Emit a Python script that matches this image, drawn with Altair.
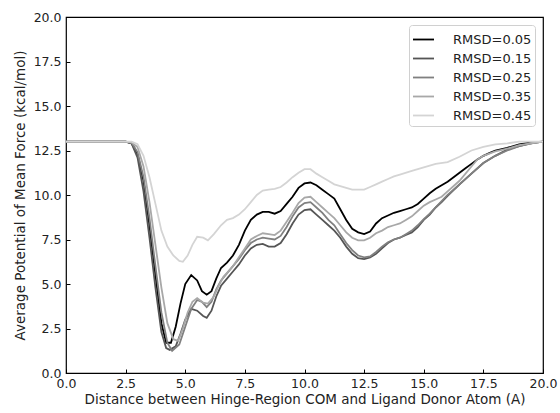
import altair as alt
import pandas as pd

# Series names and their grey levels
rmsd_labels = ["RMSD=0.05", "RMSD=0.15", "RMSD=0.25", "RMSD=0.35", "RMSD=0.45"]
line_colors = ["#000000", "#555555", "#808080", "#a8a8a8", "#d4d4d4"]

# Axis tick positions
x_ticks = [0.0, 2.5, 5.0, 7.5, 10.0, 12.5, 15.0, 17.5, 20.0]
y_ticks = [0.0, 2.5, 5.0, 7.5, 10.0, 12.5, 15.0, 17.5, 20.0]

# RMSD = 0.05
dist_005 = [0.0, 2.5, 2.75, 3.0, 3.25, 3.5, 3.75, 4.0, 4.2, 4.4, 4.6, 4.8, 5.0, 5.25,
            5.5, 5.7, 5.9, 6.1, 6.3, 6.5, 6.75, 7.0, 7.25, 7.5, 7.75, 8.0, 8.25, 8.5,
            8.75, 9.0, 9.25, 9.5, 9.75, 10.0, 10.25, 10.5, 10.75, 11.0, 11.25, 11.5,
            11.75, 12.0, 12.25, 12.5, 12.75, 13.0, 13.25, 13.5, 13.75, 14.0, 14.25,
            14.5, 14.75, 15.0, 15.25, 15.5, 15.75, 16.0, 16.25, 16.5, 16.75, 17.0,
            17.25, 17.5, 17.75, 18.0, 18.5, 19.0, 19.5, 20.0]
pmf_005 = [13.0, 13.0, 12.9, 12.3, 10.8, 8.3, 5.5, 2.8, 1.7, 1.7, 2.6, 3.9, 5.0, 5.5,
           5.2, 4.6, 4.4, 4.6, 5.3, 5.9, 6.2, 6.6, 7.2, 8.0, 8.6, 8.9, 9.05, 9.05,
           8.95, 9.1, 9.5, 9.9, 10.4, 10.65, 10.7, 10.55, 10.3, 10.05, 9.8, 9.2,
           8.6, 8.1, 7.9, 7.8, 7.95, 8.4, 8.7, 8.85, 9.0, 9.1, 9.2,
           9.3, 9.5, 9.8, 10.1, 10.35, 10.55, 10.75, 11.0, 11.25, 11.5, 11.75,
           12.0, 12.2, 12.35, 12.5, 12.65, 12.85, 12.95, 13.0]

# RMSD = 0.15
dist_015 = [0.0, 2.5, 2.75, 3.0, 3.25, 3.5, 3.75, 4.0, 4.2, 4.35, 4.6, 4.8, 5.0, 5.25,
            5.5, 5.75, 5.9, 6.1, 6.3, 6.5, 6.75, 7.0, 7.25, 7.5, 7.75, 8.0, 8.25, 8.5,
            8.75, 9.0, 9.25, 9.5, 9.75, 10.0, 10.25, 10.5, 10.75, 11.0, 11.25, 11.5,
            11.75, 12.0, 12.25, 12.5, 12.75, 13.0, 13.25, 13.5, 13.75, 14.0, 14.25,
            14.5, 14.75, 15.0, 15.25, 15.5, 15.75, 16.0, 16.5, 17.0, 17.5, 18.0,
            18.5, 19.0, 19.5, 20.0]
pmf_015 = [13.0, 13.0, 12.9, 12.1, 10.2, 7.6, 4.8, 2.3, 1.4, 1.3, 1.5, 2.2, 3.0, 3.6,
           3.5, 3.2, 3.1, 3.5, 4.3, 4.9, 5.3, 5.7, 6.1, 6.6, 7.0, 7.2, 7.25, 7.1,
           7.1, 7.3, 7.8, 8.4, 8.9, 9.15, 9.2, 8.9, 8.6, 8.3, 8.0, 7.6,
           7.1, 6.7, 6.45, 6.4, 6.5, 6.7, 7.0, 7.3, 7.5, 7.6, 7.75,
           7.9, 8.2, 8.6, 8.9, 9.3, 9.6, 9.95, 10.6, 11.2, 11.8, 12.2,
           12.55, 12.75, 12.9, 13.0]

# RMSD = 0.25
dist_025 = [0.0, 2.5, 2.75, 3.0, 3.25, 3.5, 3.75, 4.0, 4.25, 4.45, 4.75, 5.0, 5.25,
            5.5, 5.7, 5.9, 6.1, 6.3, 6.5, 6.75, 7.0, 7.25, 7.5, 7.75, 8.0, 8.25, 8.5,
            8.75, 9.0, 9.25, 9.5, 9.75, 10.0, 10.25, 10.5, 10.75, 11.0, 11.25, 11.5,
            11.75, 12.0, 12.25, 12.5, 12.75, 13.0, 13.25, 13.5, 13.75, 14.0, 14.25,
            14.5, 14.75, 15.0, 15.25, 15.5, 15.75, 16.0, 16.5, 17.0, 17.5, 18.0,
            18.5, 19.0, 19.5, 20.0]
pmf_025 = [13.0, 13.0, 12.95, 12.4, 11.0, 8.7, 6.0, 3.4, 1.7, 1.25, 1.6, 2.6, 3.6,
           4.1, 4.0, 3.7, 4.0, 4.7, 5.2, 5.6, 6.0, 6.4, 6.9, 7.3, 7.5, 7.6, 7.55,
           7.5, 7.7, 8.2, 8.8, 9.3, 9.55, 9.6, 9.3, 9.0, 8.6, 8.3, 7.8,
           7.3, 6.9, 6.6, 6.5, 6.55, 6.8, 7.1, 7.35, 7.5, 7.6, 7.8,
           8.0, 8.3, 8.65, 8.95, 9.3, 9.65, 10.0, 10.6, 11.2, 11.8, 12.2,
           12.5, 12.75, 12.9, 13.0]

# RMSD = 0.35
dist_035 = [0.0, 2.5, 2.75, 3.0, 3.25, 3.5, 3.75, 4.0, 4.25, 4.5, 4.7, 4.9, 5.1, 5.3,
            5.5, 5.75, 5.95, 6.2, 6.4, 6.6, 6.8, 7.0, 7.25, 7.5, 7.75, 8.0, 8.25, 8.5,
            8.75, 9.0, 9.25, 9.5, 9.75, 10.0, 10.25, 10.5, 10.75, 11.0, 11.25, 11.5,
            11.75, 12.0, 12.25, 12.5, 12.75, 13.0, 13.25, 13.5, 13.75, 14.0, 14.25,
            14.5, 14.75, 15.0, 15.25, 15.5, 15.75, 16.0, 16.5, 17.0, 17.25, 17.5,
            18.0, 18.5, 19.0, 19.5, 20.0]
pmf_035 = [13.0, 13.0, 12.95, 12.7, 11.6, 9.6, 7.2, 4.8, 2.8, 1.9, 1.8, 2.5, 3.4, 4.0,
           4.2, 3.95, 3.9, 4.3, 4.9, 5.4, 5.7, 6.0, 6.5, 7.0, 7.5, 7.7, 7.85, 7.8,
           7.75, 8.0, 8.5, 9.0, 9.55, 9.85, 9.9, 9.6, 9.3, 9.0, 8.7, 8.3,
           7.9, 7.6, 7.45, 7.45, 7.6, 7.85, 8.0, 8.2, 8.3, 8.4, 8.6,
           8.8, 9.1, 9.4, 9.6, 9.75, 9.9, 10.2, 10.8, 11.6, 12.0, 12.2,
           12.45, 12.6, 12.8, 12.9, 13.0]

# RMSD = 0.45
dist_045 = [0.0, 2.75, 3.0, 3.25, 3.5, 3.75, 4.0, 4.25, 4.5, 4.75, 4.9, 5.1, 5.3, 5.5,
            5.75, 5.95, 6.2, 6.5, 6.75, 7.0, 7.25, 7.5, 7.75, 8.0, 8.25, 8.5, 8.75,
            9.0, 9.25, 9.5, 9.75, 10.0, 10.25, 10.5, 10.75, 11.0, 11.25, 11.5, 11.75,
            12.0, 12.5, 12.75, 13.0, 13.25, 13.5, 13.75, 14.0, 14.5, 15.0, 15.5,
            16.0, 16.5, 17.0, 17.5, 18.0, 18.5, 19.0, 20.0]
pmf_045 = [13.0, 13.0, 12.85, 12.2, 11.0, 9.5, 8.0, 7.1, 6.6, 6.3, 6.25, 6.6, 7.2, 7.65,
           7.6, 7.45, 7.8, 8.3, 8.6, 8.7, 8.9, 9.2, 9.6, 10.0, 10.25, 10.3, 10.35,
           10.45, 10.7, 11.0, 11.25, 11.45, 11.45, 11.2, 11.0, 10.8, 10.6, 10.5, 10.4,
           10.3, 10.3, 10.45, 10.6, 10.75, 10.9, 11.05, 11.15, 11.35, 11.55, 11.75,
           11.85, 12.15, 12.5, 12.7, 12.85, 12.9, 13.0, 13.0]

series = [(rmsd_labels[0], dist_005, pmf_005),
          (rmsd_labels[1], dist_015, pmf_015),
          (rmsd_labels[2], dist_025, pmf_025),
          (rmsd_labels[3], dist_035, pmf_035),
          (rmsd_labels[4], dist_045, pmf_045)]

frames = []
for order, (name, xs, ys) in enumerate(series):
    frames.append(pd.DataFrame({"rmsd": name, "order": order,
                                "distance": xs, "pmf": ys}))
data = pd.concat(frames, ignore_index=True)

W, H = 477, 356
font = "DejaVu Sans"

x_scale = alt.Scale(domain=[0, 20], nice=False, zero=False)
y_scale = alt.Scale(domain=[0, 20], nice=False, zero=False)

base = alt.Chart(data)

# Visible curves with tick labels, titles and legend
curves = base.mark_line(strokeWidth=1.8, clip=True).encode(
    x=alt.X("distance:Q", scale=x_scale,
            title="Distance between Hinge-Region COM and Ligand Donor Atom (A)",
            axis=alt.Axis(values=x_ticks, format=".1f", ticks=False, domain=False,
                          grid=False, labelPadding=4, labelFlush=False,
                          labelOverlap=False, titlePadding=3)),
    y=alt.Y("pmf:Q", scale=y_scale,
            title="Average Potential of Mean Force (kcal/mol)",
            axis=alt.Axis(values=y_ticks, format=".1f", ticks=False, domain=False,
                          grid=False, labelPadding=5, labelFlush=False,
                          labelOverlap=False, titlePadding=6)),
    color=alt.Color("rmsd:N",
                    scale=alt.Scale(domain=rmsd_labels, range=line_colors),
                    legend=alt.Legend(title=None, orient="none", legendX=343, legendY=8,
                                      symbolType="stroke", symbolStrokeWidth=1.8,
                                      symbolSize=441, labelFontSize=13,
                                      labelFont=font, labelColor="#222222",
                                      padding=3, rowPadding=-1, labelOffset=18,
                                      strokeColor="#d0d0d0", fillColor="white",
                                      cornerRadius=3)),
    order=alt.Order("order:Q"),
)

# Inward-pointing tick marks on the bottom and left edges
inner_ticks = base.mark_line(strokeOpacity=0).encode(
    x=alt.X("distance:Q", scale=x_scale, title=None,
            axis=alt.Axis(orient="top", offset=-H, values=x_ticks, labels=False,
                          domain=False, grid=False, ticks=True, tickSize=4,
                          tickColor="black", tickWidth=1)),
    y=alt.Y("pmf:Q", scale=y_scale, title=None,
            axis=alt.Axis(orient="right", offset=-W, values=y_ticks, labels=False,
                          domain=False, grid=False, ticks=True, tickSize=4,
                          tickColor="black", tickWidth=1)),
    detail="rmsd:N",
)

chart = alt.layer(curves, inner_ticks).resolve_axis(
    x="independent", y="independent"
).properties(
    width=W, height=H,
    background="white",
    autosize=alt.AutoSizeParams(type="none"),
    padding={"left": 66, "top": 17, "right": 17, "bottom": 40},
).configure_view(
    stroke="black", strokeWidth=1.2
).configure_axis(
    labelFont=font, titleFont=font, labelFontSize=12.5, titleFontSize=13.5,
    labelColor="#222222", titleColor="#222222", titleFontWeight="normal"
)

chart.save("out.html", embed_options={"renderer": "svg", "actions": False})
